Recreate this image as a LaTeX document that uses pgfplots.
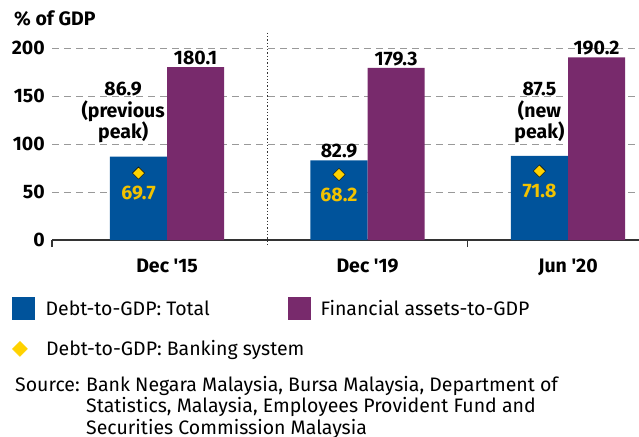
\documentclass[border=0pt]{standalone}
\usepackage{fontspec}
\setmainfont{Fira Sans}
\usepackage{pgfplots}
\pgfplotsset{compat=1.18}
\definecolor{cblue}{HTML}{00539B}
\definecolor{cpurple}{HTML}{782A6C}
\definecolor{cyellow}{HTML}{FFD200}
\definecolor{ctext}{HTML}{F2C200}
\definecolor{caxis}{HTML}{333333}
\newcommand{\lblfont}{\bfseries\fontsize{19.5}{21.5}\selectfont}
\newcommand{\txtfont}{\fontsize{19.5}{22}\selectfont}
\begin{document}
\begin{tikzpicture}
\path[use as bounding box] (0pt,0pt) rectangle (639pt,-436pt);
\begin{axis}[
  at={(52pt,-240pt)}, anchor=south west,
  scale only axis, width=587pt, height=207.4pt,
  xmin=-0.574, xmax=2.354, ymin=0, ymax=216,
  clip=false,
  axis x line*=bottom, axis y line*=left,
  x axis line style={-, draw=caxis, line width=1.2pt},
  y axis line style={draw=none},
  ytick={0,50,100,150,200},
  ytick style={draw=none},
  ymajorgrids,
  grid style={draw=gray!80, line width=0.9pt, dash pattern=on 7pt off 5pt},
  xtick={0,1,2},
  xticklabels={Dec \textquotesingle15, Dec \textquotesingle19, Jun \textquotesingle20},
  major tick length=0pt,
  minor xtick={-0.574,1.5},
  minor tick length=7pt,
  tick align=outside,
  minor tick style={draw=caxis, line width=1.2pt},
  /pgf/number format/assume math mode=true,
  xticklabel style={font=\lblfont, anchor=base, inner sep=0pt, yshift=-32pt},
  yticklabel style={font=\lblfont, anchor=east, inner sep=0pt, xshift=-7pt},
  legend columns=2,
  legend style={at={(-0.0681,-0.2724)}, anchor=north west, draw=none, fill=none,
    inner sep=0pt, column sep=0pt, row sep=21.5pt,
    cells={anchor=west},
    nodes={inner sep=0pt, text height=14pt, text depth=0pt, font=\txtfont}},
]
\addplot[ybar, bar width=0.285, bar shift=0, fill=cblue, draw=none,
  legend image code/.code={\fill[cblue] (0pt,-11.5pt) rectangle (23pt,11.5pt); \path (33pt,0pt);}]
  coordinates {(-0.1425,86.9) (0.8575,82.9) (1.8575,87.5)};
\addlegendentry{\makebox[242pt][l]{Debt-to-GDP: Total}}
\addplot[ybar, bar width=0.285, bar shift=0, fill=cpurple, draw=none,
  nodes near coords,
  nodes near coords style={font=\lblfont, anchor=south, inner sep=0pt, yshift=2pt, text=black},
  legend image code/.code={\fill[cpurple] (0pt,-11.5pt) rectangle (23pt,11.5pt); \path (33pt,0pt);}]
  coordinates {(0.1425,180.1) (1.1425,179.3) (2.1425,190.2)};
\addlegendentry{Financial assets-to-GDP}
\addplot[only marks, mark=square*, mark size=4.3pt, mark options={rotate=45, fill=cyellow, draw=none},
  nodes near coords,
  nodes near coords style={font=\lblfont, anchor=center, inner sep=0pt, yshift=-20pt, text=ctext},
  legend image code/.code={\fill[cyellow] (0pt,0pt) -- (7.5pt,7.5pt) -- (15pt,0pt) -- (7.5pt,-7.5pt) -- cycle; \path (33pt,0pt);}]
  coordinates {(-0.1425,69.7) (0.8575,68.2) (1.8575,71.8)};
\addlegendentry{\makebox[0pt][l]{Debt-to-GDP: Banking system}}
\draw[draw=caxis, line width=1.3pt, dash pattern=on 1.3pt off 2pt]
  (axis cs:0.5,216) -- (axis cs:0.5,0) -- ++(0pt,-7pt);
\node[align=center, anchor=north, inner sep=0pt, font=\lblfont] at (axis cs:-0.219,164.6) {86.9\\(previous\\peak)};
\node[align=center, anchor=north, inner sep=0pt, font=\lblfont] at (axis cs:1.8575,164.6) {87.5\\(new\\peak)};
\node[anchor=south, inner sep=0pt, yshift=2pt, font=\lblfont] at (axis cs:0.8575,82.9) {82.9};
\end{axis}
\node[anchor=base west, inner sep=0pt, font=\lblfont] at (14pt,-26pt) {\% of GDP};
\node[anchor=base west, inner sep=0pt, font=\txtfont] at (15pt,-391pt) {Source:};
\node[anchor=base west, inner sep=0pt, font=\txtfont] at (86pt,-391pt) {Bank Negara Malaysia, Bursa Malaysia, Department of};
\node[anchor=base west, inner sep=0pt, font=\txtfont] at (86pt,-412.5pt) {Statistics, Malaysia, Employees Provident Fund and};
\node[anchor=base west, inner sep=0pt, font=\txtfont] at (86pt,-434pt) {Securities Commission Malaysia};
\end{tikzpicture}
\end{document}
